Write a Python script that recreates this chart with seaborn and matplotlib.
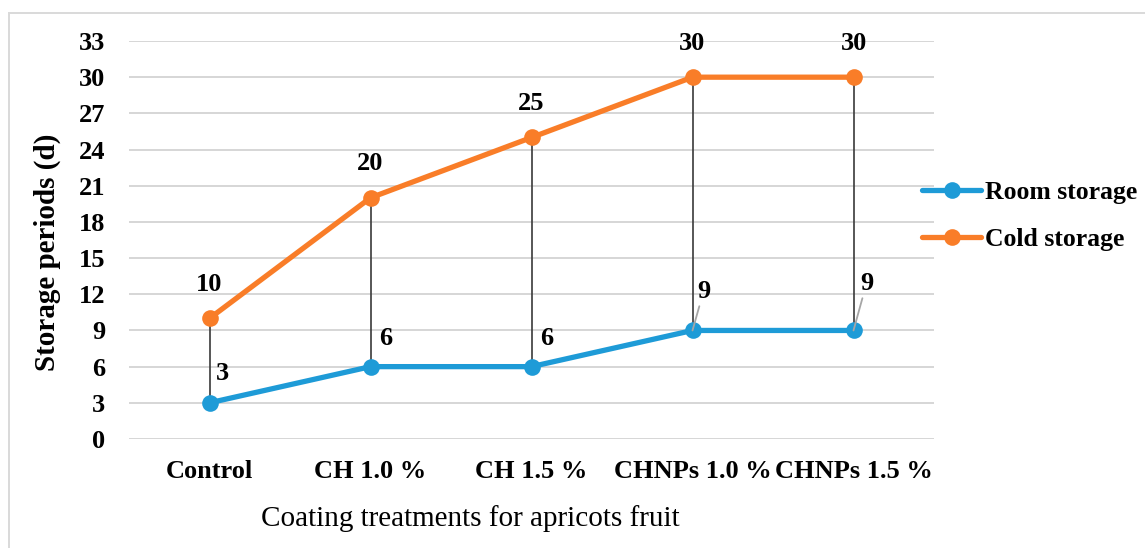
import matplotlib
matplotlib.use("Agg")
import matplotlib.pyplot as plt
from matplotlib.patches import Rectangle
from matplotlib.lines import Line2D
import seaborn as sns
import pandas as pd

treatments = ["Control", "CH 1.0 %", "CH 1.5 %", "CHNPs 1.0 %", "CHNPs 1.5 %"]
room_storage = [3, 6, 6, 9, 9]
cold_storage = [10, 20, 25, 30, 30]
series_names = ["Room storage", "Cold storage"]
y_ticks = [0, 3, 6, 9, 12, 15, 18, 21, 24, 27, 30, 33]

colors = {"Room storage": "#1E9BD7", "Cold storage": "#F97D28"}

df = pd.DataFrame({
    "Treatment": treatments * 2,
    "Days": room_storage + cold_storage,
    "Series": [series_names[0]] * len(treatments) + [series_names[1]] * len(treatments),
})

sns.set_theme(style="white")
plt.rcParams["font.family"] = ["Liberation Serif", "DejaVu Serif"]
plt.rcParams["text.color"] = "black"
plt.rcParams["axes.labelcolor"] = "black"
plt.rcParams["xtick.color"] = "black"
plt.rcParams["ytick.color"] = "black"

PX = 0.72  # points per pixel at 100 dpi

fig = plt.figure(figsize=(11.45, 5.48), dpi=100)
ax = fig.add_axes([129 / 1145, 1 - 439 / 548, 805 / 1145, 398 / 548])

# outer chart frame
fig.patches.append(Rectangle((9 / 1145, -0.05), 1.2, 1 - 13 / 548 + 0.05,
                             transform=fig.transFigure, fill=False,
                             edgecolor="#D9D9D9", linewidth=1.4, zorder=0))

ax.set_ylim(0, 33)
ax.set_xlim(-0.5, 4.5)
ax.set_yticks(y_ticks)
for y in y_ticks:
    ax.axhline(y, color="#D6D6D6", linewidth=1.4, zorder=0)

# drop lines between the two series
xs = list(range(len(treatments)))
ax.vlines(xs, room_storage, cold_storage, color="#3A3A3A", linewidth=1.2, zorder=1)

sns.lineplot(data=df, x="Treatment", y="Days", hue="Series", palette=colors,
             marker="o", markersize=12, markeredgewidth=0, linewidth=3.8,
             ax=ax, legend=False, zorder=3, sort=False)

LABEL_SIZE = 19
# value labels
for i, v in enumerate(cold_storage):
    ax.annotate(f"{v}", (i, v), xytext=(0, 34 * PX), textcoords="offset points",
                ha="center", va="center", fontsize=LABEL_SIZE, fontweight="bold")
room_offsets = [(13, 29), (15, 28), (15, 28), (11, 39), (13, 47)]
for i, v in enumerate(room_storage):
    dx, dy = room_offsets[i]
    if v >= 9:
        ax.annotate(f"{v}", (i, v), xytext=(dx * PX, dy * PX), textcoords="offset points",
                    ha="center", va="center", fontsize=LABEL_SIZE, fontweight="bold",
                    zorder=5,
                    arrowprops=dict(arrowstyle="-", color="#A6A6A6", lw=1.3,
                                    shrinkA=0, shrinkB=0))
    else:
        ax.annotate(f"{v}", (i, v), xytext=(dx * PX, dy * PX), textcoords="offset points",
                    ha="center", va="center", fontsize=LABEL_SIZE, fontweight="bold")

for s in ax.spines.values():
    s.set_visible(False)
ax.tick_params(axis="both", length=0, labelsize=19)
ax.tick_params(axis="x", pad=15)
ax.tick_params(axis="y", pad=17)
for lab in ax.get_xticklabels() + ax.get_yticklabels():
    lab.set_fontweight("bold")

ax.set_ylabel("Storage periods (d)", fontsize=21, fontweight="bold")
ax.yaxis.set_label_coords(-0.085, 0.47)
ax.set_xlabel("Coating treatments for apricots fruit", fontsize=21)
ax.xaxis.set_label_coords((470 - 129) / 805, -0.165)

handles = [Line2D([0], [0], color=colors[n], lw=3.8, marker="o", markersize=12,
                  markeredgewidth=0) for n in series_names]
fig.legend(handles, series_names, loc="center left",
           bbox_to_anchor=(904 / 1145, 1 - 216 / 548), frameon=False,
           prop={"size": 18.5, "weight": "bold"}, handlelength=2.3,
           handletextpad=0.15, labelspacing=0.95, borderpad=0.2)

fig.savefig("out.png", dpi=100)
